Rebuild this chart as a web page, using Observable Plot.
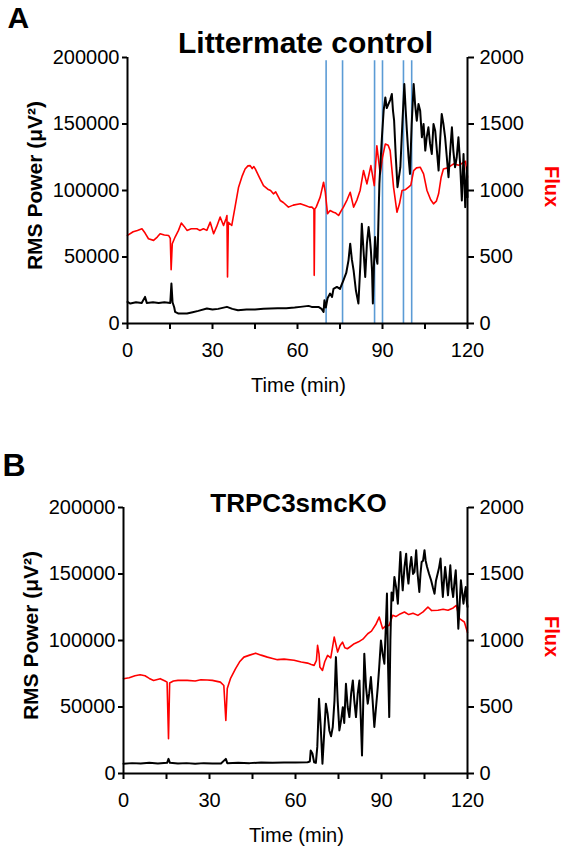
<!DOCTYPE html>
<html><head><meta charset="utf-8">
<script src="https://cdn.jsdelivr.net/npm/d3@7"></script>
<script src="https://cdn.jsdelivr.net/npm/@observablehq/plot@0.6"></script>
<style>
body{margin:0;background:#fff;}
#wrap{position:relative;width:562px;height:852px;overflow:hidden;background:#fff;}
#wrap svg{position:absolute;left:0;}
</style></head><body><div id="wrap"></div>
<script>
// ---------- data (time in min, values) ----------
const xTicks = [0, 15, 30, 45, 60, 75, 90, 105, 120];
const leftTicks = [0, 50000, 100000, 150000, 200000];   // RMS power (µV²)
const rightTicks = [0, 500, 1000, 1500, 2000];          // Flux

// Panel A – Littermate control
const eventsA = [70.1, 75.9, 87.2, 90.0, 97.4, 100.3];
const fluxA = [[0,662],[2,690],[3.5,700],[5.1,712],[6.2,680],[7.4,637],[9.2,625],[10.5,650],[11.5,675],[13,665],[14.5,662],[15.1,640],[15.4,405],[15.8,600],[16.8,650],[18,700],[19,755],[20,730],[21,700],[22.5,712],[24.5,712],[25.5,700],[26.8,712],[28,700],[29.2,762],[30.4,675],[31.5,730],[32.7,800],[33.9,737],[34.8,790],[35.1,812],[35.3,350],[35.6,760],[36.8,737],[38,880],[39.2,1025],[40.5,1110],[41.5,1162],[42.5,1185],[43.3,1187],[44,1165],[44.6,1180],[45.1,1162],[46.5,1100],[48,1037],[49.5,1010],[50.5,1000],[51.5,975],[52.3,990],[53.9,925],[55,910],[56.8,875],[58.5,890],[61,900],[63,885],[64.2,875],[65.1,875],[65.8,860],[65.9,362],[66.1,860],[66.6,875],[68,950],[69.2,1062],[69.8,990],[70.6,825],[71.5,850],[72.7,837],[73.5,830],[74.5,812],[75.5,850],[76.2,875],[77.5,930],[78.6,987],[79.8,875],[81,930],[82.1,1000],[83.3,1150],[84.5,1050],[85.9,1187],[87.1,1037],[88,1337],[89.2,1125],[90,1250],[91,1350],[92,1340],[92.7,1300],[93.9,1025],[95.1,837],[96,900],[96.9,1000],[98,1005],[99.2,1025],[100,1040],[101,1150],[102,1170],[103.3,1175],[104.5,1125],[105.7,1000],[107,930],[108,900],[109,920],[109.8,975],[110.7,1100],[111.5,1162],[113,1170],[115.1,1200],[117,1190],[118.6,1212],[119.3,1220],[120,1100]];
const powerA = [[0,16250],[1,15000],[3,16000],[5,15500],[6.2,20000],[6.8,15500],[9,16000],[11,15500],[13,16000],[15.1,15500],[15.5,30000],[15.9,16000],[16.5,12000],[16.8,8750],[18,7500],[21,7500],[23,8500],[25,9500],[28,11250],[30,10500],[32,11000],[35.1,12500],[37,11000],[39,10000],[42,10500],[45,10500],[48,11000],[50.4,11250],[53,11500],[56,11500],[59,12000],[61,12500],[63.9,13250],[65,12500],[67.4,12500],[68.5,11000],[69.2,8750],[69.5,17500],[70,12000],[70.6,19000],[71.5,22500],[72.2,20000],[72.7,26000],[73.9,27500],[75,26000],[76.2,32500],[77.2,38000],[78,47500],[78.6,60000],[79.2,48000],[79.8,40000],[80.6,25000],[81.5,15000],[82.2,45000],[82.7,75000],[83.3,55000],[83.9,35000],[84.5,60000],[85.1,72500],[85.5,65000],[85.9,55000],[86.3,40000],[86.6,15000],[87,45000],[87.4,65000],[87.8,50000],[88.2,45000],[88.6,80000],[88.9,105000],[89.4,125000],[89.8,140000],[90.4,160000],[91,170000],[91.5,162000],[92.1,165000],[92.7,168000],[93.3,172500],[93.7,160000],[94.1,152500],[94.7,125000],[95.3,102500],[95.8,110000],[96.3,117500],[97,150000],[97.7,180000],[98.2,160000],[98.6,145000],[99.2,125000],[99.7,112500],[100.3,150000],[101,180000],[101.5,165000],[102.1,152500],[102.7,165000],[103.3,160000],[103.9,140000],[104.5,150000],[105.1,130000],[105.6,140000],[106.2,147500],[106.8,135000],[107.4,127500],[108,150000],[108.6,145000],[109.2,130000],[109.8,115000],[110.4,140000],[110.9,157500],[111.5,150000],[112.1,140000],[112.7,125000],[113.3,110000],[113.9,130000],[114.5,147500],[115,130000],[115.6,117500],[116.2,125000],[116.8,140000],[117.4,120000],[118,92500],[118.6,127500],[119.2,87500],[119.8,117500],[120,95000]];

// Panel B – TRPC3smcKO
const fluxB = [[0,713],[2,720],[4,735],[5.8,743],[7.5,735],[9,715],[10.5,700],[12.8,713],[14.5,695],[15.2,687],[15.7,261],[16.1,680],[17.4,695],[19,700],[22.2,700],[25,695],[27,705],[29.2,703],[31,700],[33.8,687],[35,662],[35.7,399],[36.2,640],[37.3,713],[39.1,788],[40.5,840],[42,875],[44,890],[46.1,905],[48,890],[50.2,875],[52,865],[53.7,856],[56,860],[59.5,851],[62,838],[64.2,830],[65.5,820],[66.5,813],[67.3,850],[67.7,963],[68.2,900],[68.5,800],[69.4,775],[70.2,840],[71.2,888],[72.3,870],[73.5,1026],[74.7,913],[75.5,960],[76.4,988],[77.2,945],[78.1,938],[79.2,955],[80.5,976],[82,990],[83.5,1010],[85.2,1051],[86.5,1070],[88,1120],[89.2,1176],[90.4,1089],[91.5,1110],[92.7,1114],[93.9,1189],[95,1180],[96.5,1200],[98,1214],[99.5,1195],[101,1205],[102.7,1189],[104.5,1215],[106.2,1252],[107.5,1225],[109.7,1227],[111.5,1235],[113.2,1227],[115,1245],[116.1,1264],[117.2,1164],[118.9,1139],[120,1060]];
const powerB = [[0,7300],[3,7800],[6,7500],[9,8000],[12,7600],[15.2,8000],[15.7,11000],[16.2,8000],[19,7500],[22,7800],[25,7300],[28,7800],[31,7600],[34,7500],[35.7,11000],[36.2,7800],[40,8000],[44,7800],[48,8200],[52,8000],[56,8300],[60,8200],[64.2,8500],[65,9000],[65.3,17300],[65.9,15000],[66.5,8500],[67.1,8000],[67.6,20000],[68.2,56200],[68.8,35000],[69.4,7300],[70,30000],[70.6,52500],[71.2,45000],[71.8,32400],[72.4,28000],[73,35000],[73.6,55000],[74.1,87500],[74.7,55000],[75.3,32400],[75.9,40000],[76.5,49900],[77,38000],[77.6,67500],[78.2,50000],[78.8,42400],[79.4,60000],[80,70000],[80.5,55000],[81.1,42400],[81.7,60000],[82.3,70000],[82.8,40000],[83.2,13500],[83.6,50000],[84,90100],[84.6,65000],[85.2,52500],[85.7,60000],[86.3,72500],[86.9,55000],[87.5,35000],[88.1,50000],[88.7,65000],[89.2,80000],[89.8,100000],[90.4,90000],[91,82600],[91.5,110000],[91.9,135300],[92.3,80000],[92.7,42400],[93.1,100000],[93.5,136000],[94,130000],[94.5,147800],[95.1,140000],[95.7,127700],[96.2,150000],[96.6,166600],[97,150000],[97.4,137700],[98,155000],[98.6,165300],[99,150000],[99.4,142800],[99.9,155000],[100.4,162800],[101,150000],[101.5,151500],[102.1,167900],[102.6,150000],[103.2,136500],[103.6,150000],[104,159000],[104.5,160000],[105,167900],[105.4,160000],[105.9,155300],[106.6,150000],[107.3,145300],[107.9,140000],[108.5,135200],[109,145000],[109.6,150300],[110.1,155000],[110.6,161600],[111,145000],[111.4,132700],[111.8,145000],[112.2,155300],[112.7,145000],[113.2,134000],[113.6,145000],[114,156600],[114.5,140000],[115,132700],[115.5,145000],[115.9,152800],[116.4,130000],[116.8,108900],[117.2,125000],[117.7,145300],[118.2,135000],[118.6,127700],[119,135000],[119.4,140200],[119.7,130000],[120,125200]];

// ---------- drawing ----------
const K = 100; // flux units -> left-axis units (2000 ↔ 200000)
const FONT = "'Liberation Sans', Arial, sans-serif";

function label(text, o) {
  return Plot.text([text], {textAnchor: "middle", lineAnchor: "middle", ...o});
}

function panel(o) {
  const marks = [];
  if (o.events) marks.push(Plot.ruleX(o.events, {y1: 0, y2: 197500, stroke: "#5b9bd5", strokeWidth: 1.6}));
  marks.push(
    Plot.line(o.flux, {x: d => d[0], y: d => d[1] * K, stroke: "#ff0000", strokeWidth: 1.6}),
    Plot.line(o.power, {x: d => d[0], y: d => d[1], stroke: "#000", strokeWidth: 2}),
    Plot.ruleX([0, 120], {y1: 0, y2: 200000, stroke: "#000", strokeWidth: 2}),
    Plot.ruleY([0], {x1: 0, x2: 120, stroke: "#000", strokeWidth: 2}),
    Plot.axisY({ticks: leftTicks, tickFormat: d => String(d), tickSize: 5, tickPadding: 3, fontSize: 20, label: null, strokeWidth: 2}),
    Plot.axisY({anchor: "right", ticks: rightTicks.map(v => v * K), tickFormat: d => String(d / K), tickSize: 6, tickPadding: 6, fontSize: 20, label: null, strokeWidth: 2}),
    Plot.axisX({ticks: xTicks, tickFormat: d => d % 30 === 0 ? String(d) : "", tickSize: 6, tickPadding: 13, fontSize: 20, label: null, strokeWidth: 2}),
    label(o.letter, {frameAnchor: "top-left", textAnchor: "start", dx: o.letterDx, dy: o.letterDy, fontSize: o.letterSize, fontWeight: "bold"}),
    label(o.title, {frameAnchor: "top", dx: o.titleDx, dy: o.titleDy, fontSize: o.titleSize, fontWeight: "bold"}),
    label("RMS Power (\u03bcV\u00b2)", {frameAnchor: "left", rotate: -90, dx: -92, dy: -5, fontSize: 21, fontWeight: "bold"}),
    label("Flux", {frameAnchor: "right", rotate: 90, dx: 84, dy: -4, fontSize: 20, fontWeight: "bold", fill: "#ff0000"}),
    label("Time (min)", {frameAnchor: "bottom", dx: 1, dy: 62, fontSize: 20})
  );
  const svg = Plot.plot({
    width: 562, height: o.height,
    marginTop: o.mt, marginBottom: o.mb, marginLeft: o.ml, marginRight: o.mr,
    x: {domain: [0, 120]},
    y: {domain: [0, 200000]},
    style: {fontFamily: FONT, color: "#000", background: "transparent", overflow: "visible"},
    marks
  });
  svg.style.top = o.top + "px";
  return svg;
}

const wrap = document.getElementById("wrap");
wrap.appendChild(panel({
  top: 0, height: 400, mt: 57, mb: 77, ml: 127, mr: 95,
  events: eventsA, flux: fluxA, power: powerA,
  letter: "A", letterSize: 30, letterDx: -120, letterDy: -39,
  title: "Littermate control", titleSize: 30, titleDx: 8, titleDy: -14
}));
wrap.appendChild(panel({
  top: 420, height: 432, mt: 87, mb: 79, ml: 123, mr: 95,
  events: null, flux: fluxB, power: powerB,
  letter: "B", letterSize: 32, letterDx: -121, letterDy: -42,
  title: "TRPC3smcKO", titleSize: 26, titleDx: 3, titleDy: -4
}));
</script></body></html>
